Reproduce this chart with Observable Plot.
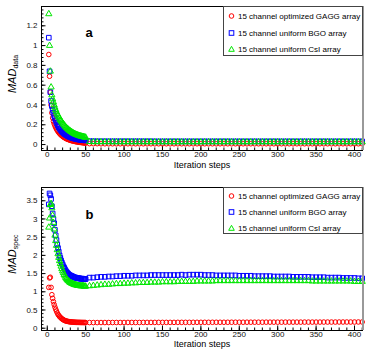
<!DOCTYPE html>
<html>
<head>
<meta charset="utf-8">
<script src="https://cdn.jsdelivr.net/npm/d3@7"></script>
<script src="https://cdn.jsdelivr.net/npm/@observablehq/plot@0.6"></script>
<style>
  body { margin: 0; background: white; }
  #chart { position: relative; width: 374px; height: 359px; font-family: "Liberation Sans", Arial, Helvetica, sans-serif; color: black; }
  .abs { position: absolute; white-space: nowrap; }
  .plbl { font-weight: bold; font-size: 13px; transform: translate(-50%, -50%); }
  .ytitle { transform: translate(-50%, -50%) rotate(-90deg); font-size: 11px; }
  .ytitle i { font-style: italic; }
  .ytitle sub { font-size: 7px; vertical-align: -2px; }
  .xtitle { font-size: 9px; line-height: 10px; transform: translate(-50%, -50%); }
  .legend { border: 1px solid #444; background: white; box-sizing: border-box; }
  .legend .row { position: absolute; left: 4px; font-size: 8px; display: flex; align-items: center; transform: translateY(-50%); }
  .legend .row svg { margin-right: 3px; overflow: visible; }
</style>
</head>
<body>
<div id="chart">
  <div id="top" class="abs" style="left:0;top:0"></div>
  <div id="bottom" class="abs" style="left:0;top:180px"></div>
</div>
<script>
// ---------- data ----------
const seriesNames = ["15 channel optimized GAGG array", "15 channel uniform BGO array", "15 channel uniform CsI array"];
const xTickLabels = [0, 50, 100, 150, 200, 250, 300, 350, 400];
const yTicksA = [0, 0.2, 0.4, 0.6, 0.8, 1, 1.2];
const yTicksB = [0, 0.5, 1, 1.5, 2, 2.5, 3, 3.5];

// iteration steps (every step up to 50, then every 5th)
const stepsHead = d3.range(2, 51);
const stepsTail = d3.range(55, 411, 5);

// panel a : MAD_data
const gaggA_head = [0.91,0.69,0.53,0.40,0.32,0.27,0.235,0.21,0.19,0.172,0.157,0.144,0.132,0.121,0.112,0.103,0.096,0.089,0.083,0.077,0.072,0.067,0.063,0.059,0.055,0.052,0.049,0.046,0.043,0.041,0.039,0.037,0.035,0.033,0.031,0.030,0.028,0.027,0.026,0.024,0.023,0.022,0.021,0.020,0.019,0.018,0.017,0.016,0.015];
const bgoA_head = [1.08,0.74,0.53,0.44,0.39,0.35,0.32,0.29,0.265,0.245,0.225,0.207,0.19,0.176,0.163,0.152,0.142,0.133,0.125,0.118,0.111,0.105,0.10,0.095,0.09,0.086,0.082,0.078,0.075,0.072,0.069,0.066,0.064,0.062,0.06,0.058,0.056,0.054,0.053,0.051,0.05,0.049,0.048,0.047,0.046,0.045,0.044,0.043,0.042];
const csiA_head = [1.32,1.00,0.74,0.58,0.50,0.46,0.43,0.40,0.375,0.35,0.33,0.31,0.295,0.28,0.265,0.25,0.24,0.228,0.217,0.206,0.196,0.187,0.178,0.17,0.162,0.155,0.148,0.142,0.136,0.13,0.125,0.12,0.115,0.111,0.107,0.103,0.10,0.097,0.094,0.091,0.088,0.086,0.084,0.082,0.08,0.078,0.076,0.074,0.072];
const gaggA_tail = [0.009,0.009,0.009,0.008,0.008,0.008,0.008,0.008,0.008,0.008,0.008,0.008,
  0.008,0.008,0.008,0.008,0.008,0.008,0.008,0.008,0.008,0.008,0.008,0.008,
  0.008,0.008,0.008,0.008,0.008,0.008,0.008,0.008,0.008,0.008,0.008,0.008,
  0.008,0.008,0.008,0.008,0.008,0.008,0.008,0.008,0.008,0.008,0.008,0.008,
  0.008,0.008,0.008,0.008,0.008,0.008,0.008,0.008,0.008,0.008,0.008,0.008,
  0.008,0.008,0.008,0.008,0.008,0.008,0.008,0.008,0.008,0.008,0.008,0.008];
const bgoA_tail = [0.034,0.034,0.033,0.033,0.033,0.033,0.033,0.033,0.033,0.033,0.033,0.033,
  0.033,0.033,0.033,0.033,0.033,0.032,0.032,0.032,0.032,0.032,0.032,0.032,
  0.032,0.032,0.032,0.032,0.032,0.032,0.032,0.032,0.032,0.032,0.032,0.032,
  0.032,0.032,0.032,0.032,0.032,0.032,0.032,0.032,0.032,0.032,0.032,0.032,
  0.032,0.032,0.032,0.032,0.032,0.032,0.032,0.032,0.032,0.032,0.032,0.032,
  0.032,0.032,0.032,0.032,0.032,0.032,0.032,0.032,0.032,0.032,0.032,0.032];
const csiA_tail = [0.028,0.027,0.027,0.027,0.027,0.026,0.026,0.026,0.026,0.026,0.026,0.026,
  0.026,0.026,0.026,0.026,0.026,0.026,0.026,0.026,0.026,0.026,0.026,0.026,
  0.026,0.026,0.026,0.026,0.026,0.026,0.026,0.026,0.026,0.026,0.026,0.026,
  0.026,0.026,0.026,0.026,0.026,0.026,0.026,0.026,0.026,0.026,0.026,0.026,
  0.026,0.026,0.026,0.026,0.026,0.026,0.026,0.026,0.026,0.026,0.026,0.026,
  0.026,0.026,0.026,0.026,0.026,0.026,0.026,0.026,0.026,0.026,0.026,0.026];

// panel b : MAD_spec
const gaggB_head = [1.12,1.38,1.40,1.12,0.92,0.82,0.73,0.65,0.58,0.52,0.47,0.42,0.38,0.35,0.32,0.30,0.28,0.26,0.245,0.23,0.22,0.21,0.20,0.195,0.19,0.185,0.18,0.178,0.175,0.172,0.17,0.168,0.166,0.165,0.163,0.162,0.161,0.160,0.160,0.159,0.159,0.158,0.158,0.157,0.157,0.157,0.156,0.156,0.155];
const bgoB_head = [3.40,3.70,3.65,3.55,3.35,3.15,3.00,2.88,2.70,2.55,2.42,2.30,2.20,2.10,2.00,1.93,1.86,1.80,1.75,1.70,1.66,1.62,1.58,1.55,1.52,1.50,1.48,1.46,1.45,1.44,1.43,1.42,1.41,1.40,1.39,1.39,1.38,1.38,1.37,1.37,1.37,1.36,1.36,1.36,1.36,1.35,1.35,1.35,1.35];
const csiB_head = [2.77,3.02,3.39,3.42,3.30,3.10,2.90,2.72,2.55,2.40,2.27,2.15,2.04,1.94,1.85,1.77,1.70,1.63,1.57,1.52,1.47,1.43,1.39,1.36,1.33,1.31,1.29,1.27,1.25,1.24,1.23,1.22,1.21,1.20,1.19,1.19,1.18,1.18,1.17,1.17,1.17,1.16,1.16,1.16,1.16,1.16,1.15,1.15,1.15];
const gaggB_tail = [0.155,0.155,0.155,0.156,0.156,0.156,0.157,0.157,0.157,0.157,0.158,0.158,
  0.158,0.158,0.159,0.159,0.159,0.159,0.160,0.160,0.160,0.160,0.160,0.161,
  0.161,0.161,0.161,0.162,0.162,0.162,0.162,0.162,0.163,0.163,0.163,0.163,
  0.163,0.164,0.164,0.164,0.164,0.165,0.165,0.165,0.165,0.165,0.166,0.166,
  0.166,0.166,0.166,0.167,0.167,0.167,0.167,0.167,0.168,0.168,0.168,0.168,
  0.168,0.169,0.169,0.169,0.169,0.170,0.170,0.170,0.170,0.170,0.171,0.171];
const bgoB_tail = [1.39,1.39,1.40,1.41,1.41,1.42,1.42,1.43,1.43,1.44,1.44,1.44,
  1.45,1.45,1.45,1.45,1.46,1.46,1.46,1.46,1.46,1.46,1.46,1.46,
  1.47,1.46,1.47,1.47,1.47,1.47,1.46,1.46,1.46,1.45,1.45,1.45,
  1.45,1.45,1.45,1.44,1.44,1.44,1.44,1.43,1.43,1.43,1.43,1.43,
  1.42,1.42,1.42,1.42,1.42,1.41,1.41,1.41,1.41,1.41,1.40,1.40,
  1.40,1.40,1.39,1.39,1.39,1.39,1.38,1.38,1.38,1.38,1.37,1.37];
const csiB_tail = [1.16,1.17,1.18,1.19,1.20,1.20,1.21,1.22,1.22,1.23,1.23,1.24,
  1.24,1.25,1.25,1.25,1.26,1.26,1.26,1.27,1.27,1.27,1.27,1.28,
  1.28,1.28,1.28,1.28,1.29,1.29,1.29,1.29,1.29,1.30,1.30,1.30,
  1.30,1.30,1.30,1.30,1.30,1.30,1.30,1.30,1.30,1.30,1.30,1.30,
  1.30,1.30,1.30,1.30,1.30,1.30,1.30,1.30,1.30,1.30,1.29,1.29,
  1.29,1.29,1.29,1.29,1.29,1.29,1.29,1.29,1.29,1.28,1.28,1.28];

// ---------- helpers ----------
const steps = stepsHead.concat(stepsTail);
const toRows = (head, tail) => head.concat(tail).map((v, i) => ({step: steps[i], value: v}));

const colors = ["#ff0000", "#0000ff", "#00e600"];
const symbols = ["circle", "square", "triangle"];
const radii = [2.3, 2.6, 2.3];
const xDomain = [-7.5, 410.4];
const xMinor = d3.range(0, 411, 10);
const fmt = d => String(d);

function panel({height, marginTop, marginBottom, yDomain, yMajor, yMinor, sets}) {
  return Plot.plot({
    width: 374, height, marginLeft: 41, marginRight: 12, marginTop, marginBottom,
    style: {fontFamily: "'Liberation Sans', Arial, Helvetica, sans-serif", fontSize: "8px", color: "black", background: "white", overflow: "visible"},
    x: {domain: xDomain},
    y: {domain: yDomain},
    marks: [
      Plot.axisX(xTickLabels, {tickSize: 0, tickPadding: 1, label: null, tickFormat: fmt, fill: "#111"}),
      Plot.axisX(xTickLabels, {tickSize: -4.5, tickFormat: () => "", label: null}),
      Plot.axisX(xMinor, {tickSize: -2.5, tickFormat: () => "", label: null}),
      Plot.axisY(yMajor, {tickSize: 0, tickPadding: 4, label: null, tickFormat: fmt, fill: "#111"}),
      Plot.axisY(yMajor, {tickSize: -4.5, tickFormat: () => "", label: null}),
      Plot.axisY(yMinor, {tickSize: -2.5, tickFormat: () => "", label: null}),
      ...sets.map((d, i) => Plot.dot(d, {x: "step", y: "value", symbol: symbols[i], stroke: colors[i], fill: "none", r: radii[i], strokeWidth: 1})),
      Plot.frame({stroke: "black"}),
      Plot.ruleX([xDomain[1]], {stroke: "#999", strokeWidth: 2, dx: 0.5})
    ]
  });
}

const yMinorA = d3.range(-1, 35).map(i => +(i * 0.04).toFixed(2));
const yMinorB = d3.range(0, 39).map(i => +(i * 0.1).toFixed(1));

document.getElementById("top").appendChild(panel({
  height: 180, marginTop: 6, marginBottom: 30, yDomain: [-0.06, 1.395], yMajor: yTicksA, yMinor: yMinorA,
  sets: [toRows(gaggA_head, gaggA_tail), toRows(bgoA_head, bgoA_tail), toRows(csiA_head, csiA_tail)]
}));
document.getElementById("bottom").appendChild(panel({
  height: 179, marginTop: 7, marginBottom: 29, yDomain: [-0.063, 3.864], yMajor: yTicksB, yMinor: yMinorB,
  sets: [toRows(gaggB_head, gaggB_tail), toRows(bgoB_head, bgoB_tail), toRows(csiB_head, csiB_tail)]
}));

// ---------- annotations ----------
const chart = document.getElementById("chart");
function add(html, cls, style) {
  const el = document.createElement("div");
  el.className = "abs " + cls;
  el.setAttribute("style", style);
  el.innerHTML = html;
  chart.appendChild(el);
  return el;
}
add("a", "plbl", "left:89px;top:32px");
add("b", "plbl", "left:89.5px;top:214px");
add("<i>MAD</i><sub>data</sub>", "ytitle", "left:12px;top:74px");
add("<i>MAD</i><sub>spec</sub>", "ytitle", "left:12px;top:254px");
add("Iteration steps", "xtitle", "left:202px;top:165px");
add("Iteration steps", "xtitle", "left:202px;top:344px");

function markerSvg(i) {
  const c = colors[i];
  let shape;
  if (i === 0) shape = `<circle cx="3.5" cy="3.5" r="2.3" fill="none" stroke="${c}"/>`;
  else if (i === 1) shape = `<rect x="1.2" y="1.2" width="4.6" height="4.6" fill="none" stroke="${c}"/>`;
  else shape = `<polygon points="3.5,0.8 6.3,5.8 0.7,5.8" fill="none" stroke="${c}"/>`;
  return `<svg width="7" height="7">${shape}</svg>`;
}
function legend(top, height, rowYs) {
  const box = add("", "legend", `left:223px;top:${top}px;width:140px;height:${height}px`);
  rowYs.forEach((y, i) => {
    const r = document.createElement("div");
    r.className = "row";
    r.style.top = y + "px";
    r.innerHTML = markerSvg(i) + `<span>${seriesNames[i]}</span>`;
    box.appendChild(r);
  });
}
legend(6, 50, [9, 25.5, 42]);
legend(187, 47, [8, 23.5, 40]);
</script>
</body>
</html>
